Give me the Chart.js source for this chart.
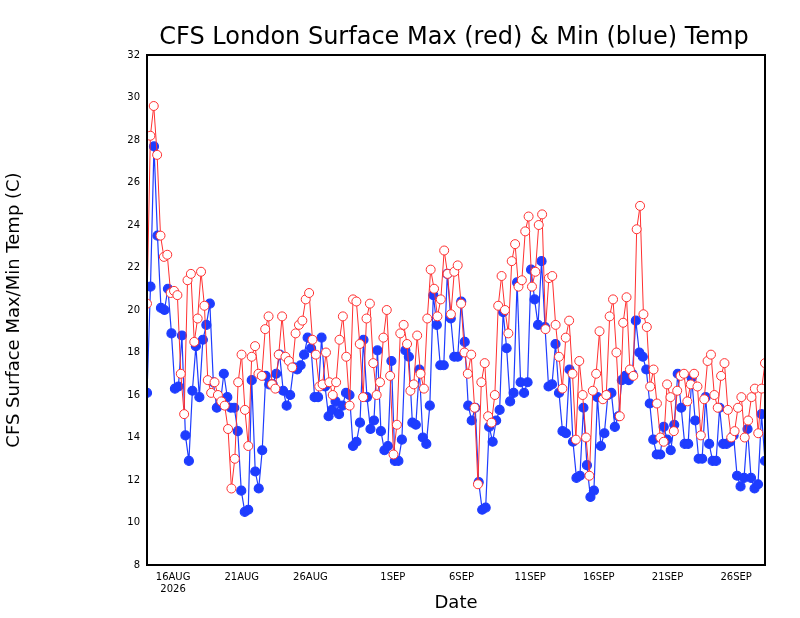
<!DOCTYPE html>
<html><head><meta charset="utf-8">
<script src="https://cdn.jsdelivr.net/npm/chart.js@4"></script>
<style>html,body{margin:0;background:#fff}#c{display:block}</style>
</head><body>
<div style="width:800px;height:618px"><canvas id="c" width="800" height="618"></canvas></div>
<script>
// 6-hourly values, first point ~14 Aug, last ~28 Sep 2026
const maxTemp = [20.3,28.2,29.6,27.3,23.5,22.5,22.6,20.8,20.9,20.7,17.0,15.1,21.4,21.7,18.5,19.6,21.8,20.2,16.7,16.1,16.6,16.0,15.7,15.5,14.4,11.6,13.0,16.6,17.9,15.3,13.6,17.8,18.3,17.0,16.9,19.1,19.7,16.5,16.3,17.9,19.7,17.8,17.6,17.3,18.9,19.3,19.5,20.5,20.8,18.6,17.9,16.4,16.5,18.0,16.6,16.0,16.6,18.6,19.7,17.8,15.5,20.5,20.4,18.4,15.9,19.6,20.3,17.5,16.0,16.6,18.7,20.0,16.9,13.2,14.6,18.9,19.3,18.4,16.2,16.5,18.8,17.0,16.3,19.6,21.9,21.0,19.7,20.5,22.8,21.7,19.8,21.8,22.1,20.3,18.0,17.0,17.9,15.4,11.8,16.6,17.5,15.0,14.7,16.0,20.2,21.6,20.0,18.9,22.3,23.1,21.1,21.4,23.7,24.4,21.1,21.8,24.0,24.5,19.1,21.5,21.6,19.3,17.8,16.3,18.7,19.5,17.0,13.9,17.6,16.0,14.0,12.2,16.2,17.0,19.0,15.8,16.0,19.7,20.5,18.0,15.0,19.4,20.6,17.2,16.9,23.8,24.9,19.8,19.2,16.4,17.2,15.6,14.0,13.8,16.5,15.9,14.3,16.2,16.9,17.0,15.7,16.5,17.0,16.4,14.1,15.8,17.6,17.9,16.0,15.4,16.9,17.5,15.3,14.0,14.3,15.4,15.9,14.0,14.8,15.9,16.3,14.2,16.3,17.5];
const minTemp = [16.1,21.1,27.7,23.5,20.1,20.0,21.0,18.9,16.3,16.4,18.8,14.1,12.9,16.2,18.3,15.9,18.6,19.3,20.3,16.6,15.4,15.6,17.0,15.9,15.4,15.4,14.3,11.5,10.5,10.6,16.7,12.4,11.6,13.4,16.9,16.5,16.5,17.0,17.9,16.2,15.5,16.0,17.3,17.2,17.4,17.9,18.7,18.2,15.9,15.9,18.7,16.4,15.0,15.3,15.7,15.1,15.5,16.1,16.0,13.6,13.8,14.7,18.6,15.9,14.4,14.8,18.1,14.3,13.4,13.6,17.6,12.9,12.9,13.9,18.1,17.8,14.7,14.6,17.2,14.0,13.7,15.5,20.7,19.3,17.4,17.4,21.7,19.6,17.8,17.8,20.4,18.5,15.5,14.8,15.4,11.9,10.6,10.7,14.5,13.8,14.8,15.3,19.9,18.2,15.7,16.1,21.3,16.6,16.1,16.6,21.9,20.5,19.3,22.3,19.2,16.4,16.5,18.4,16.1,14.3,14.2,17.2,13.8,12.1,12.2,15.4,12.7,11.2,11.5,15.9,13.6,14.2,16.0,16.1,14.5,15.0,16.7,16.9,16.7,17.0,19.5,18.0,17.8,17.2,15.6,13.9,13.2,13.2,14.5,13.9,13.4,14.6,17.0,15.4,13.7,13.7,16.8,14.8,13.0,13.0,15.9,13.7,12.9,12.9,15.4,13.7,13.7,13.8,14.1,12.2,11.7,12.1,14.4,12.1,11.6,11.8,15.1,12.9];
// day offsets from 16 Aug 00Z and their labels
const tickDays = [0,5,10,16,21,26,31,36,41];
const tickLabels = [['16AUG','2026'],'21AUG','26AUG','1SEP','6SEP','11SEP','16SEP','21SEP','26SEP'];
const yTicks = [8,10,12,14,16,18,20,22,24,26,28,30,32];
const xStart = -1.9, xEnd = 43.1;

function toPoints(arr) {
  const step = (xEnd - xStart) / (arr.length - 1);
  return arr.map((v, i) => ({ x: xStart + i * step, y: v }));
}

const frame = {
  id: 'frame',
  afterDraw(chart) {
    const { ctx, chartArea: a } = chart;
    ctx.save();
    ctx.strokeStyle = '#000'; ctx.lineWidth = 2;
    ctx.strokeRect(a.left, a.top, a.right - a.left, a.bottom - a.top);
    ctx.fillStyle = '#000';
    ctx.font = '24px "DejaVu Sans"';
    ctx.textAlign = 'center';
    ctx.fillText('CFS London Surface Max (red) & Min (blue) Temp', 454, 44);
    ctx.restore();
  }
};

new Chart(document.getElementById('c'), {
  type: 'scatter',
  data: {
    datasets: [
      { data: toPoints(maxTemp), showLine: true, borderColor: '#ff3030', borderWidth: 1,
        pointRadius: 4.5, pointBackgroundColor: '#fff', pointBorderColor: '#ff3030', pointBorderWidth: 1 },
      { data: toPoints(minTemp), showLine: true, borderColor: '#1e3cff', borderWidth: 1.2,
        pointRadius: 4.5, pointBackgroundColor: '#1e3cff', pointBorderColor: '#1e3cff' }
    ]
  },
  options: {
    responsive: false, animation: false,
    layout: { padding: { top: 55, right: 35, left: 0, bottom: 0 } },
    plugins: { legend: { display: false }, tooltip: { enabled: false } },
    scales: {
      x: {
        type: 'linear', min: xStart, max: xEnd,
        afterBuildTicks: s => { s.ticks = tickDays.map(v => ({ value: v })); },
        afterFit: s => { s.height = 53; },
        grid: { display: false, drawTicks: true, tickLength: 5, tickColor: '#000' },
        border: { display: false },
        ticks: { color: '#000', font: { size: 10, family: 'DejaVu Sans' }, padding: 1, maxRotation: 0,
          callback: (v) => { const i = tickDays.indexOf(v); return i >= 0 ? tickLabels[i] : ''; } },
        title: { display: true, text: 'Date', color: '#000', font: { size: 18, family: 'DejaVu Sans' }, padding: { top: 0 } }
      },
      y: {
        min: 8, max: 32,
        afterBuildTicks: s => { s.ticks = yTicks.map(v => ({ value: v })); },
        afterFit: s => { s.width = 147; },
        grid: { display: false, drawTicks: true, tickLength: 5, tickColor: '#000' },
        border: { display: false },
        ticks: { color: '#000', font: { size: 10, family: 'DejaVu Sans' }, padding: 2 },
        title: { display: true, text: 'CFS Surface Max/Min Temp (C)', color: '#000', font: { size: 18, family: 'DejaVu Sans' }, padding: { bottom: 10 } }
      }
    }
  },
  plugins: [frame]
});
</script>
</body></html>
